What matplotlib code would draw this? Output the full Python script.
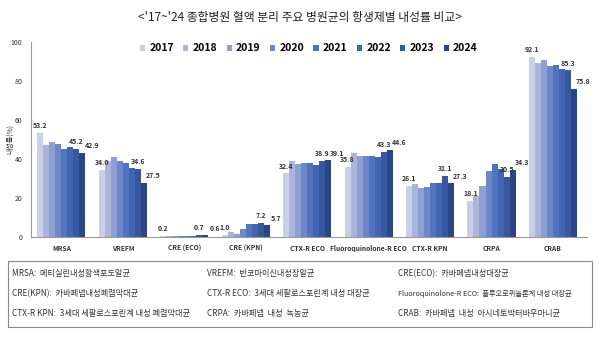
import numpy as np
import matplotlib.pyplot as plt
from matplotlib.patches import Rectangle

plt.rcParams['font.family'] = ['Noto Sans CJK KR', 'DejaVu Sans']

categories = ['MRSA', 'VREFM', 'CRE (ECO)', 'CRE (KPN)', 'CTX-R ECO',
              'Fluoroquinolone-R ECO', 'CTX-R KPN', 'CRPA', 'CRAB']
years = ['2017', '2018', '2019', '2020', '2021', '2022', '2023', '2024']

# rows = categories, columns = years
rates = [
    [53.2, 47.0, 48.5, 47.5, 45.1, 45.8, 45.2, 42.9],
    [34.0, 38.8, 40.9, 38.8, 37.8, 35.2, 34.6, 27.5],
    [0.2, 0.1, 0.1, 0.3, 0.3, 0.4, 0.7, 0.6],
    [1.0, 2.2, 1.2, 3.9, 6.7, 6.7, 7.2, 5.7],
    [32.4, 38.6, 37.2, 37.6, 38.0, 36.8, 38.9, 39.1],
    [35.8, 42.7, 41.2, 41.4, 41.4, 41.0, 43.3, 44.6],
    [26.1, 27.0, 24.8, 25.5, 27.7, 27.4, 31.1, 27.3],
    [18.1, 20.9, 26.0, 33.5, 37.1, 34.9, 30.5, 34.3],
    [92.1, 89.2, 90.4, 87.4, 88.2, 86.0, 85.3, 75.8],
]
labeled_years = ['2017', '2023', '2024']

colors = ['#c9cfe6', '#aab5dc', '#8e9fd3', '#6d88ca', '#5174bf',
          '#4264b1', '#37579e', '#2c4584']

notes = [
    ['MRSA:  메티실린내성황색포도알균', 'VREFM:  반코마이신내성장알균', 'CRE(ECO):  카바페넴내성대장균'],
    ['CRE(KPN):  카바페넴내성폐렴막대균', 'CTX-R ECO:  3세대 세팔로스포린계 내성 대장균', 'Fluoroquinolone-R ECO:  플루오로퀴놀론계 내성 대장균'],
    ['CTX-R KPN:  3세대 세팔로스포린계 내성 폐렴막대균', 'CRPA:  카바페넴  내성  녹농균', 'CRAB:  카바페넴  내성  아시네토박터바우마니균'],
]

fig = plt.figure(figsize=(6, 3.37), dpi=100)
ax = fig.add_axes([0.051, 0.298, 0.927, 0.578])

x = np.arange(len(categories))
width = 0.098
data = np.array(rates)
for j, yr in enumerate(years):
    pos = x + (j - 3.5) * width
    ax.bar(pos, data[:, j], width=width, color=colors[j], label=yr, linewidth=0)
    if yr in labeled_years:
        shift = 0.15 if yr == '2024' else 0.0
        for p, v in zip(pos, data[:, j]):
            ax.text(p + shift, v + 2.0, f'{v:.1f}', ha='center', va='bottom',
                    fontsize=5.0, fontweight='bold', color='#333333')

ax.set_xlim(-0.5, len(categories) - 0.45)
ax.set_ylim(0, 100)
ax.set_yticks([0, 20, 40, 60, 80, 100])
ax.tick_params(axis='y', labelsize=5, length=0, pad=6, colors='#333333')
ax.set_xticks(x)
ax.set_xticklabels(categories, fontsize=4.8, fontweight='bold', color='#333333')
ax.tick_params(axis='x', length=0, pad=6)
for s in ['top', 'right']:
    ax.spines[s].set_visible(False)
for s in ['left', 'bottom']:
    ax.spines[s].set_color('#999999')
    ax.spines[s].set_linewidth(0.8)
fig.text(0.016, 0.587, '내성률(%)', fontsize=5, color='#333333', rotation=90,
         ha='center', va='center')

ax.legend(loc='upper center', bbox_to_anchor=(0.5, 1.04), ncol=8, frameon=False,
          prop={'weight': 'bold', 'size': 7.5}, handlelength=0.5,
          handleheight=0.5, handletextpad=0.4, columnspacing=0.9)

fig.text(0.5, 0.947, "<'17~'24 종합병원 혈액 분리 주요 병원균의 항생제별 내성률 비교>",
         ha='center', va='center', fontsize=8.5, color='#222222')

# note box
fig.patches.append(Rectangle((0.013, 0.03), 0.974, 0.195, transform=fig.transFigure,
                             fill=False, edgecolor='#888888', linewidth=0.8))
col_x = [0.02, 0.345, 0.663]
row_y = [0.187, 0.128, 0.069]
for r, row in enumerate(notes):
    for c, txt in enumerate(row):
        size = 5.2 if txt.startswith('Fluoro') else 5.9
        fig.text(col_x[c], row_y[r], txt, fontsize=size, color='#333333',
                 va='center', ha='left', fontweight='light')

fig.savefig('out.png', dpi=100)
